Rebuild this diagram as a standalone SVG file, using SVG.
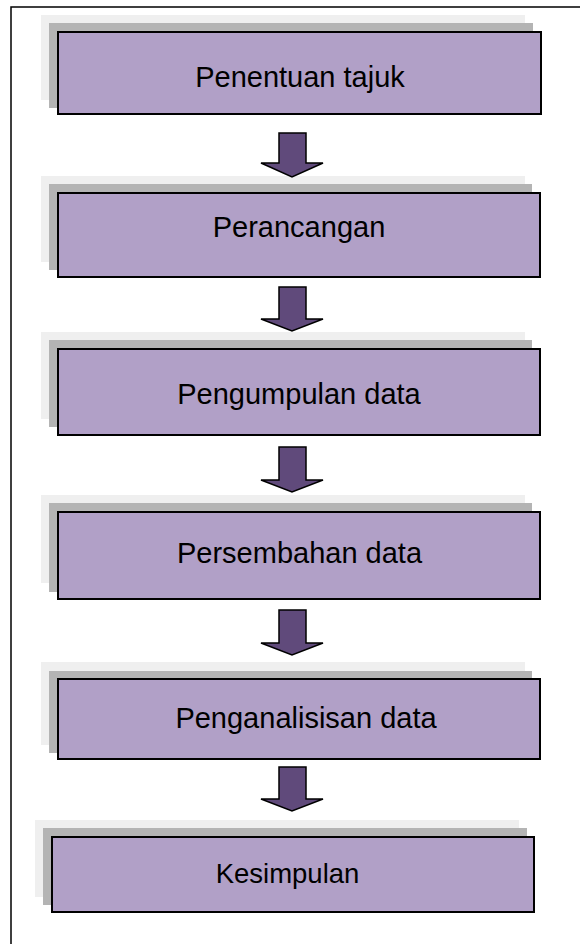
<svg xmlns="http://www.w3.org/2000/svg" width="580" height="944" viewBox="0 0 580 944">
<style>
.frame{fill:none;stroke:#000;stroke-width:1.5}
.sl{fill:#EFEFEF}
.sd{fill:#B4B4B4}
.box{fill:#B1A0C7;stroke:#000;stroke-width:2}
.lbl{font-family:"Liberation Sans",Arial,sans-serif;font-size:29px;fill:#000;text-anchor:middle}
.arr{fill:#604A7B;stroke:#000;stroke-width:1.5;stroke-linejoin:miter}
</style>
<rect width="580" height="944" fill="#fff"/>
<rect class="frame" x="11" y="7" width="600" height="960"/>
<g id="n1">
<rect class="sl" x="41" y="15" width="484" height="85"/>
<rect class="sd" x="49" y="23" width="484" height="85"/>
<rect class="box" x="58" y="32" width="483" height="82"/>
<text class="lbl" x="300" y="87">Penentuan tajuk</text>
</g>
<g id="n2">
<rect class="sl" x="41" y="176" width="484" height="86"/>
<rect class="sd" x="49" y="184" width="483" height="86"/>
<rect class="box" x="58" y="193" width="482" height="84"/>
<text class="lbl" x="299" y="237">Perancangan</text>
</g>
<g id="n3">
<rect class="sl" x="41" y="332" width="484" height="87"/>
<rect class="sd" x="49" y="340" width="483" height="87"/>
<rect class="box" x="58" y="349" width="482" height="86"/>
<text class="lbl" x="299" y="404">Pengumpulan data</text>
</g>
<g id="n4">
<rect class="sl" x="41" y="495" width="484" height="88"/>
<rect class="sd" x="49" y="503" width="483" height="89"/>
<rect class="box" x="58" y="512" width="482" height="87"/>
<text class="lbl" x="299.5" y="563">Persembahan data</text>
</g>
<g id="n5">
<rect class="sl" x="41" y="662" width="484" height="83"/>
<rect class="sd" x="49" y="671" width="483" height="82"/>
<rect class="box" x="58" y="679" width="482" height="80"/>
<text class="lbl" x="306" y="728">Penganalisisan data</text>
</g>
<g id="n6">
<rect class="sl" x="35" y="820" width="484" height="77"/>
<rect class="sd" x="43" y="828" width="484" height="77"/>
<rect class="box" x="52" y="837" width="482" height="75"/>
<text class="lbl" x="287.5" y="883" style="font-size:27.5px">Kesimpulan</text>
</g>
<g id="connectors">
<path class="arr" d="M279,133 H306 V163 H323 L292,177 L261,163 H279 Z"/>
<path class="arr" d="M279,287 H306 V319 H323 L292,331 L261,319 H279 Z"/>
<path class="arr" d="M279,447 H306 V480 H323 L292,492 L261,480 H279 Z"/>
<path class="arr" d="M279,610 H306 V643 H323 L292,655 L261,643 H279 Z"/>
<path class="arr" d="M279,767 H306 V799 H323 L292,811 L261,799 H279 Z"/>
</g>
</svg>
